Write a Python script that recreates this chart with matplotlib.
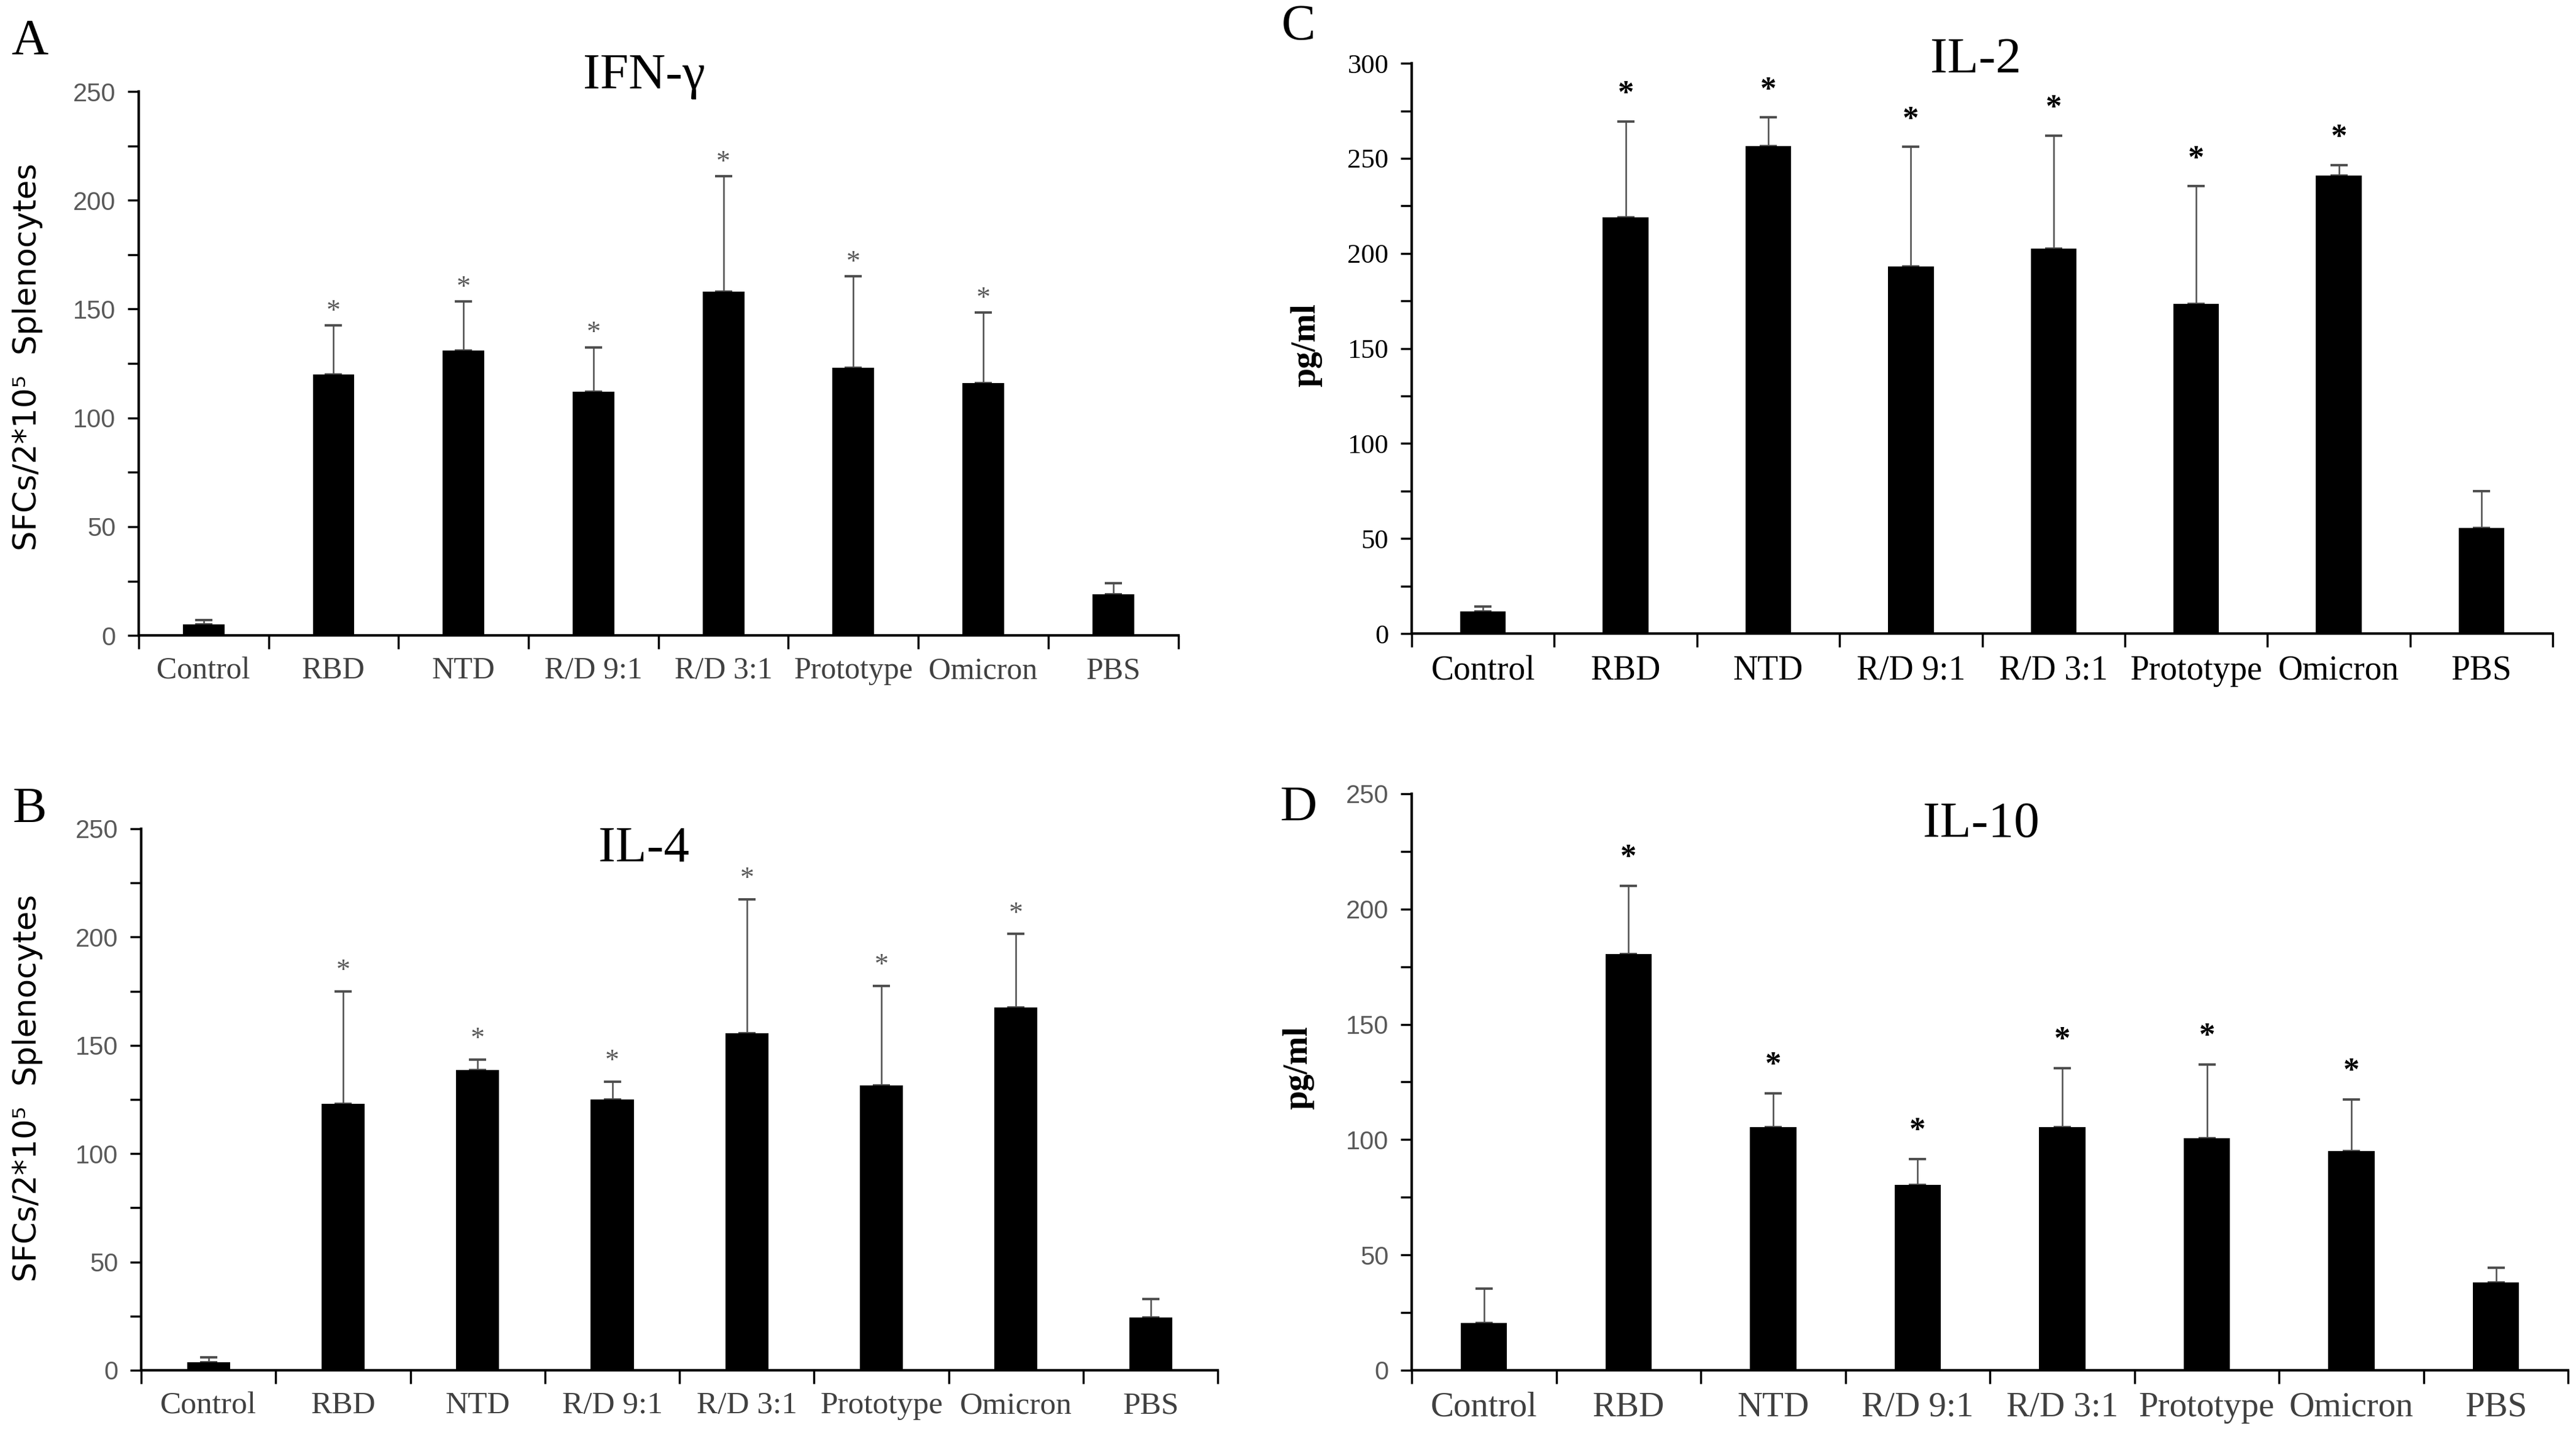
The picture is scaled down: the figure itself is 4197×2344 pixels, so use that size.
import matplotlib
matplotlib.use("Agg")
import matplotlib.pyplot as plt
from matplotlib.ticker import MultipleLocator, FixedLocator, NullFormatter
import numpy as np

# groups on the x axis (same for all four panels)
categories = ["Control", "RBD", "NTD", "R/D 9:1", "R/D 3:1", "Prototype", "Omicron", "PBS"]

# A: IFN-gamma ELISpot
ifn_mean = [5, 120, 131, 112, 158, 123, 116, 19]
ifn_sd = [2, 22.5, 22.5, 20.5, 53, 42, 32.5, 5]
ifn_sig = [0, 1, 1, 1, 1, 1, 1, 0]

# B: IL-4 ELISpot
il4_mean = [3.7, 123, 138.5, 125, 155.5, 131.5, 167.5, 24.5]
il4_sd = [2.3, 52, 5, 8.3, 62, 46, 34, 8.5]
il4_sig = [0, 1, 1, 1, 1, 1, 1, 0]

# C: IL-2 (pg/ml)
il2_mean = [11.6, 219, 256.5, 193, 202.5, 173.5, 241, 55.5]
il2_sd = [2.5, 50.5, 15, 63, 59.5, 62, 5.5, 19.5]
il2_sig = [0, 1, 1, 1, 1, 1, 1, 0]

# D: IL-10 (pg/ml)
il10_mean = [20.5, 180.5, 105.5, 80.5, 105.5, 100.5, 95, 38]
il10_sd = [15, 29.5, 14.5, 11, 25.5, 32, 22.5, 6.5]
il10_sig = [0, 1, 1, 1, 1, 1, 1, 0]

SERIF = "Liberation Serif"
SANS = "Liberation Sans"
GREY = "#595959"
DARK = "#404040"

W, H = 4197, 2344
fig = plt.figure(figsize=(W / 100, H / 100), dpi=100)
fig.patch.set_facecolor("white")


def panel(rect, mean, sd, sig, ymax, title, title_xy, letter, letter_xy,
          tick_font, tick_color, tick_size, xlab_color, xlab_size,
          star_color, star_size, star_weight, star_off):
    ax = fig.add_axes(rect)
    x = np.arange(len(categories))
    ax.bar(x, mean, width=0.32, color="black", zorder=3)
    # upper error bars only
    ax.errorbar(x, mean, yerr=[np.zeros(len(sd)), sd], fmt="none",
                ecolor="#4d4d4d", elinewidth=1.8, capsize=10, capthick=2.8, zorder=2)
    for xi, m, s, flag in zip(x, mean, sd, sig):
        if flag:
            ax.text(xi, m + s + star_off, "*", ha="center", va="center",
                    fontsize=star_size, color=star_color, fontweight=star_weight,
                    family=SERIF)

    ax.set_xlim(-0.5, len(categories) - 0.5)
    ax.set_ylim(0, ymax)
    for side in ("top", "right"):
        ax.spines[side].set_visible(False)
    for side in ("left", "bottom"):
        ax.spines[side].set_linewidth(3)

    # category separators as major ticks, names on minor ticks
    ax.xaxis.set_major_locator(FixedLocator(np.arange(-0.5, len(categories), 1.0)))
    ax.xaxis.set_major_formatter(NullFormatter())
    ax.set_xticks(x, minor=True)
    ax.set_xticklabels(categories, minor=True)
    ax.tick_params(axis="x", which="major", direction="out", length=16, width=2.5)
    ax.tick_params(axis="x", which="minor", length=0, pad=25, labelsize=xlab_size,
                   labelcolor=xlab_color)
    for lab in ax.get_xticklabels(minor=True):
        lab.set_family(SERIF)

    ax.yaxis.set_major_locator(MultipleLocator(50))
    ax.yaxis.set_minor_locator(MultipleLocator(25))
    ax.tick_params(axis="y", which="both", direction="out", length=13, width=2.5)
    ax.tick_params(axis="y", which="major", labelsize=tick_size, labelcolor=tick_color, pad=14)
    for lab in ax.get_yticklabels():
        lab.set_family(tick_font)

    fig.text(title_xy[0], title_xy[1], title, ha="center", va="center",
             fontsize=60, family=SERIF)
    fig.text(letter_xy[0], letter_xy[1], letter, ha="center", va="center",
             fontsize=60, family=SERIF)
    return ax


panel([0.0538, 0.5584, 0.4036, 0.378], ifn_mean, ifn_sd, ifn_sig, 250,
      "IFN-γ", (0.25, 0.947), "A", (0.0115, 0.971),
      SANS, GREY, 30, DARK, 36, GREY, 33, "normal", 6)
panel([0.0548, 0.0478, 0.418, 0.3763], il4_mean, il4_sd, il4_sig, 250,
      "IL-4", (0.25, 0.41), "B", (0.0115, 0.437),
      SANS, GREY, 30, DARK, 37, GREY, 33, "normal", 9)
panel([0.548, 0.5597, 0.443, 0.3963], il2_mean, il2_sd, il2_sig, 300,
      "IL-2", (0.767, 0.958), "C", (0.504, 0.981),
      SERIF, "black", 32, "black", 40, "black", 38, "bold", 14)
panel([0.548, 0.0478, 0.449, 0.4006], il10_mean, il10_sd, il10_sig, 250,
      "IL-10", (0.769, 0.427), "D", (0.504, 0.438),
      SANS, GREY, 30, DARK, 41, "black", 38, "bold", 12)

# y-axis titles
fig.text(0.0107, 0.752, "SFCs/2*10⁵  Splenocytes", rotation=90, ha="center", va="center",
         fontsize=37, family="DejaVu Sans")
fig.text(0.0107, 0.244, "SFCs/2*10⁵  Splenocytes", rotation=90, ha="center", va="center",
         fontsize=37, family="DejaVu Sans")
fig.text(0.507, 0.760, "pg/ml", rotation=90, ha="center", va="center",
         fontsize=40, family=SERIF, fontweight="bold")
fig.text(0.504, 0.258, "pg/ml", rotation=90, ha="center", va="center",
         fontsize=40, family=SERIF, fontweight="bold")

fig.savefig("out.png", dpi=100, facecolor="white")
